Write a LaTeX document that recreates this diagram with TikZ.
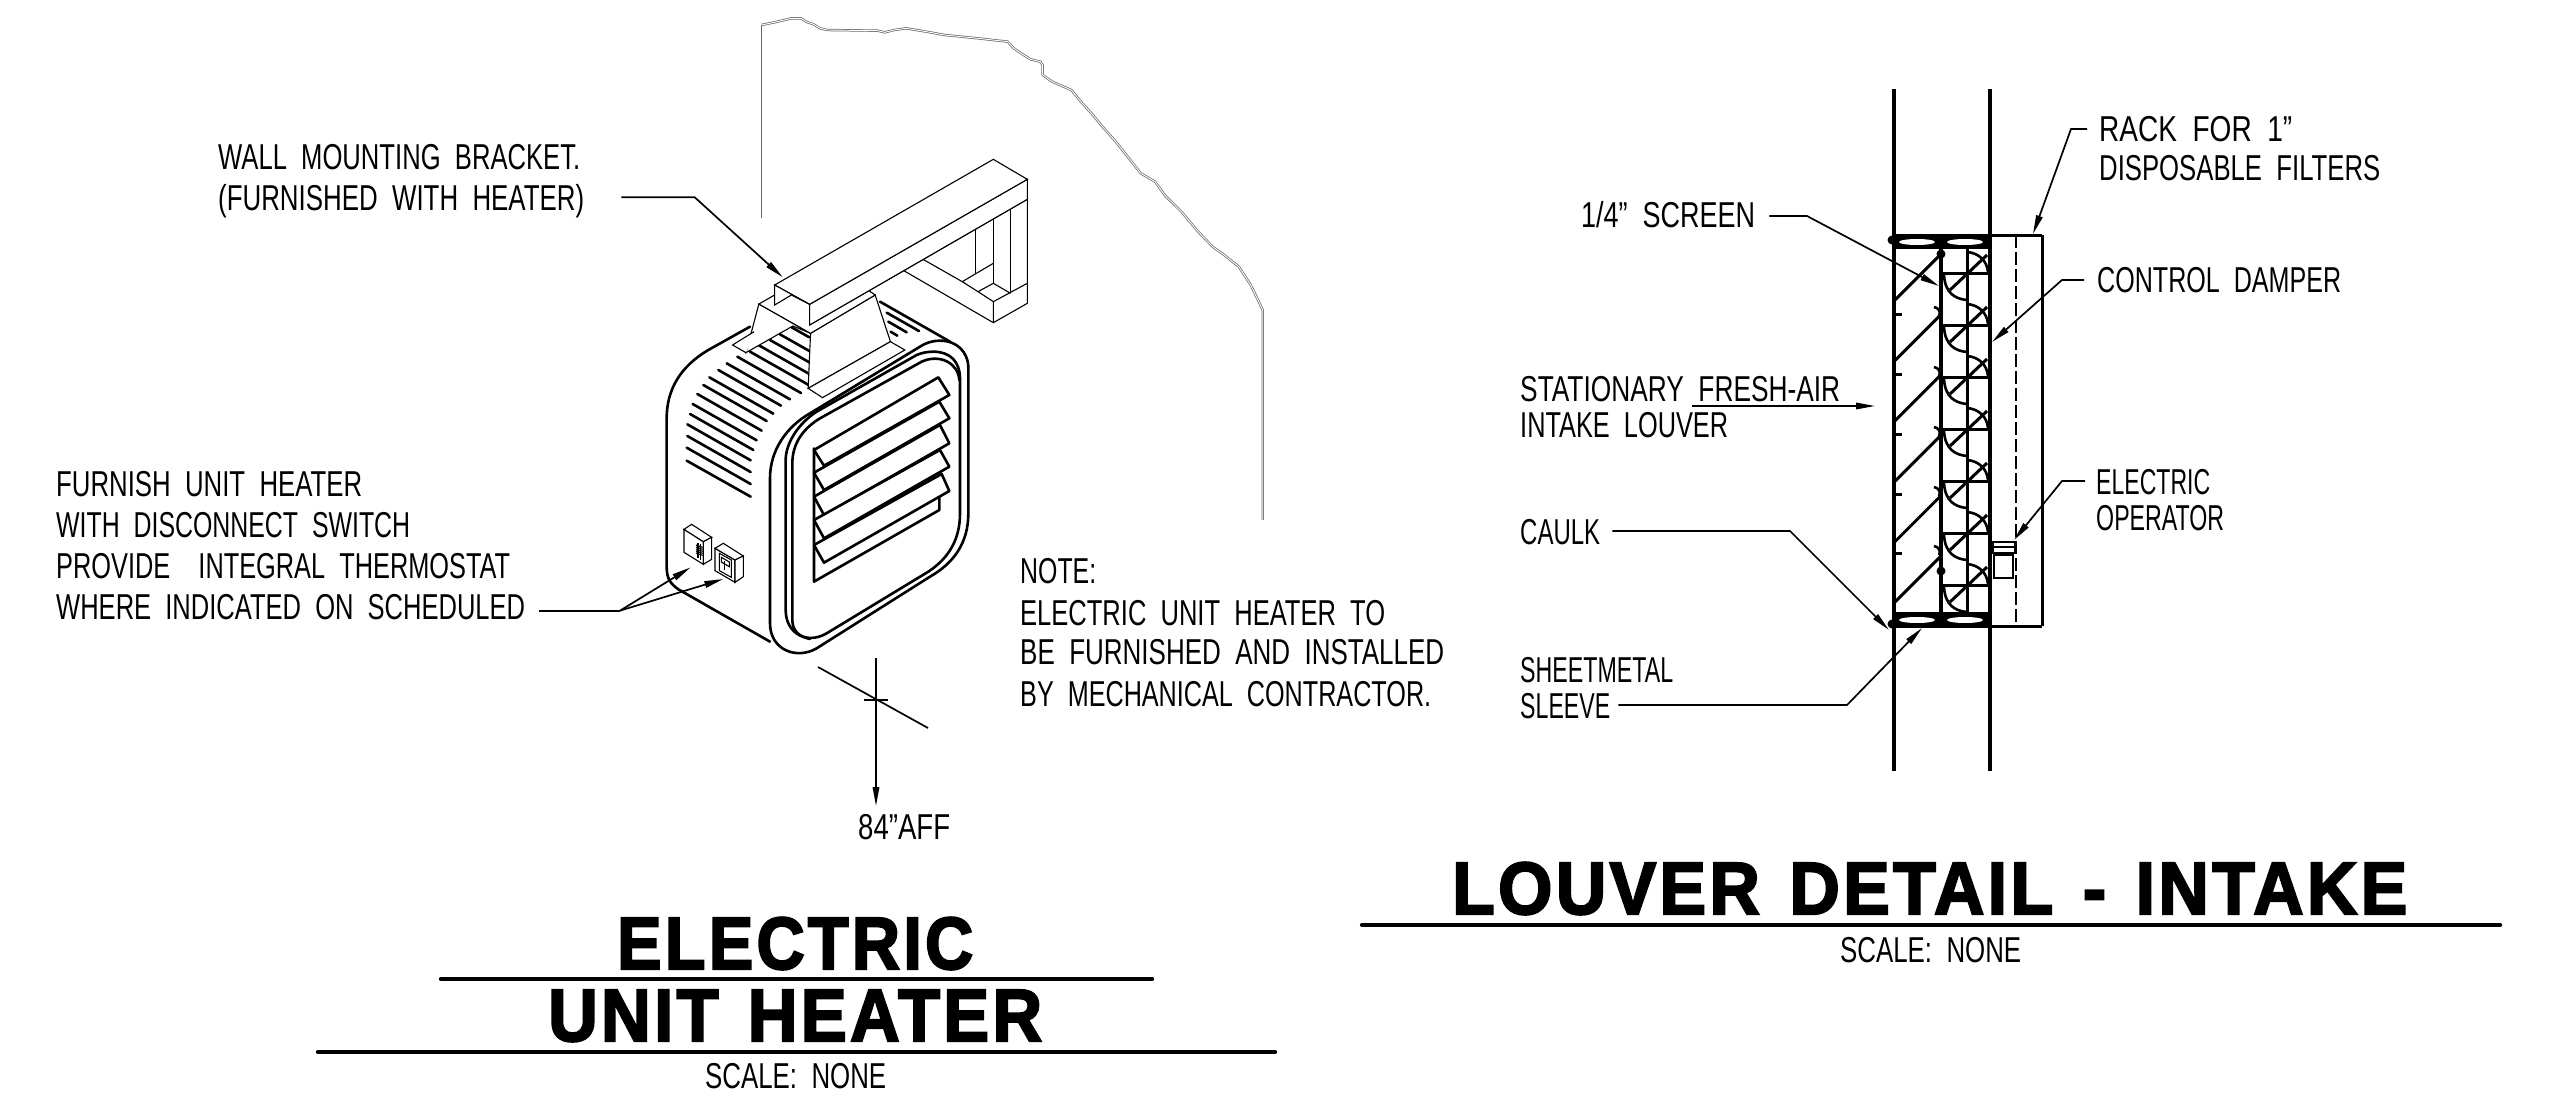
\documentclass[tikz,border=0pt]{standalone}
\usepackage{fontspec}
\usepackage{graphicx}
\usetikzlibrary{arrows.meta,calc}
\newfontfamily\cad[WordSpace=2]{Liberation Sans}
\newfontfamily\ttlf[LetterSpace=5,WordSpace=1.3,BoldFeatures={FakeBold=3}]{Liberation Sans}
\newlength\twd
\newcommand\fitw[2]{\settowidth\twd{#2}\pgfmathsetmacro\xs{#1/\the\twd*1pt/1pt}\scalebox{\xs}[1]{#2}}
\tikzset{
 lab/.style={anchor=base west,inner sep=0pt,font=\cad\fontsize{36}{36}\selectfont},
 ttl/.style={anchor=base west,inner sep=0pt,font=\ttlf\bfseries\fontsize{74}{74}\selectfont},
 lead/.style={line width=1.7pt,-{Stealth[length=19pt,width=6.5pt,inset=0pt]}},
 thk/.style={line width=2.6pt,line join=round,line cap=round},
 thn/.style={line width=1.1pt,line join=miter},
 wl/.style={line width=3.4pt},
 rule/.style={line width=4.4pt,line cap=round},
 zb/.style={shift={(620,300)},x=.33333pt,y=-.33333pt},
 za/.style={shift={(600,0)},x=.4785pt,y=-.33333pt},
 blade/.style={thk,fill=white},
}
\begin{document}
\begin{tikzpicture}[x=1pt,y=-1pt]
\useasboundingbox (0,0) rectangle (2549,1100);
\fill[white] (0,0) rectangle (2549,1100);

% ---------- wall outline
\begin{scope}[za]
\draw[line width=1.2pt,black!60] (337,655) -- (337,75);
\draw[line width=.75pt,draw=black!58,double=white,double distance=.9pt,line join=round]
 (337,75) -- (365,67) -- (400,55) -- (420,55) -- (432,66) -- (445,72) -- (460,85) -- (475,90) -- (580,92) -- (595,97) -- (615,90) -- (640,85) -- (690,97) -- (720,105) -- (790,115) -- (852,125) -- (865,145) -- (880,160) -- (900,178) -- (920,185) -- (925,195) -- (925,225) -- (945,245) -- (985,270) -- (1005,305) -- (1030,345) -- (1050,380) -- (1075,420) -- (1100,465) -- (1130,520) -- (1160,545) -- (1180,585) -- (1215,635) -- (1250,695) -- (1280,740) -- (1300,760) -- (1335,800) -- (1360,855) -- (1385,930) -- (1385,1560);
\end{scope}

% ---------- heater
\begin{scope}[zb]
\draw[thk] (390,80) -- (265,150) .. controls (180,200) and (140,270) .. (140,355) -- (140,800) .. controls (140,835) and (150,850) .. (175,868) -- (450,1025);
\draw[thk] (780,5) -- (990,125);
\draw[thk,fill=white] (960,122) .. controls (1010,122) and (1045,155) .. (1045,205) -- (1045,640) .. controls (1045,730) and (1000,790) .. (930,830) -- (590,1045) .. controls (530,1080) and (450,1050) .. (450,970) -- (450,535) .. controls (450,450) and (500,380) .. (570,340) -- (900,140) .. controls (920,127) and (940,122) .. (960,122) -- cycle;
\draw[thk] (940,155) .. controls (990,155) and (1020,185) .. (1020,235) -- (1020,640) .. controls (1020,720) and (985,775) .. (925,815) -- (620,1000) .. controls (560,1035) and (497,1000) .. (497,930) -- (497,480) .. controls (497,430) and (535,370) .. (590,335) -- (890,165) .. controls (905,158) and (925,155) .. (940,155) -- cycle;
\draw[thk] (1018,240) .. controls (1015,190) and (960,160) .. (905,185) -- (600,355) .. controls (550,385) and (517,430) .. (517,490) -- (517,960) .. controls (517,990) and (535,1010) .. (570,1017);
% louver frame and blades
\draw[thk] (582,445) -- (582,845) -- (958,630) -- (958,590);
\foreach \a/\b/\c/\d/\e/\f/\g/\h in {582/450/955/232/988/285/612/497,582/518/958/305/988/355/612/570,582/590/960/375/988/430/612/645,582/660/960/450/988/500/612/715,582/735/965/522/988/573/612/788}
 \draw[blade] (\a,\b) -- (\c,\d) -- (\e,\f) -- (\g,\h) -- cycle;
% side vents
\foreach \a/\b/\c/\d in {200/482/392/590,200/443/392/552,202/408/392/516,202/373/392/481,210/342/400/450,218/312/410/421,232/282/425/392,250/255/440/363,268/232/460/341,295/210/483/317,320/190/510/298,352/170/543/279,390/155/568/256,415/135/568/222,450/120/568/187,480/103/568/153,515/82/568/112,800/38/897/93,805/65/860/97,812/95/832/107}
 \draw[thk] (\a,\b) -- (\c,\d);
% thermostat
\draw[thn,fill=white] (192,688) -- (192,757) -- (250,793) -- (250,725) -- cycle;
\draw[thn,fill=white] (192,688) -- (215,673) -- (275,712) -- (250,725) -- cycle;
\draw[thn,fill=white] (250,725) -- (275,712) -- (275,778) -- (250,793) -- cycle;
\draw[thn] (234,728) -- (234,775) (242,733) -- (242,780);
\foreach \y in {735,741,747,753,759} \draw[thn] (228,\y) -- (248,\y+7);
% disconnect switch
\draw[thn,fill=white] (285,745) -- (285,812) -- (345,847) -- (345,780) -- cycle;
\draw[thn,fill=white] (285,745) -- (310,730) -- (370,768) -- (345,780) -- cycle;
\draw[thn,fill=white] (345,780) -- (370,768) -- (370,830) -- (345,847) -- cycle;
\draw[thn] (298,760) -- (334,780) -- (334,832) -- (298,812) -- cycle;
\draw[thn] (304,772) -- (328,786) -- (328,800) -- (304,786) -- cycle;
\draw[thn] (314,782) -- (314,810);
% leader anchors on the heater
\coordinate (fork) at (0,932);
\coordinate (tipA) at (212,802);
\coordinate (tipB) at (310,837);
\end{scope}

% ---------- bracket
\begin{scope}[za]
\draw[thn,fill=white] (332,912) -- (305,1058) -- (403,978) -- (440,1000) -- cycle;
\draw[thn,fill=white] (322,995) -- (277,1035) -- (305,1058);
\draw[thn,fill=white] (440,1000) -- (435,1165) -- (607,1025) -- (575,885) -- cycle;
\draw[thn,fill=white] (435,1165) -- (465,1193) -- (637,1050) -- (607,1025) -- cycle;
\draw[thn,fill=white] (332,912) -- (440,1000) -- (575,885) -- (560,870) -- (365,885) -- cycle;
% rear frame
\draw[thn] (893,538) -- (893,910) -- (822,968) -- (635,812);
\draw[thn] (893,850) -- (822,905) -- (822,968);
\draw[thn] (822,905) -- (790,875) -- (822,850) -- (858,880);
\draw[thn] (858,628) -- (858,880);
\draw[thn] (822,658) -- (822,850);
\draw[thn] (785,688) -- (785,820);
\draw[thn] (822,790) -- (757,845) -- (790,875);
\draw[thn] (675,778) -- (757,845);
\draw[thn] (893,598) -- (438,975);
% arm
\draw[thn,fill=white] (438,913) -- (438,975) -- (893,598) -- (893,538) -- cycle;
\draw[thn,fill=white] (365,855) -- (822,478) -- (893,538) -- (438,913) -- cycle;
\draw[thn,fill=white] (365,855) -- (365,915) -- (400,885) -- (438,913) -- cycle;
\coordinate (wbBend) at (198,592);
\coordinate (wbTip) at (382,832);
\end{scope}

% ---------- louver section
\draw[wl] (1894,89) -- (1894,771);
\draw[wl] (1990,89) -- (1990,771);
\draw[wl] (1941,248) -- (1941,613);
\draw[line width=3pt] (1967,248) -- (1967,612);
\draw[line width=3pt] (2042,235) -- (2042,626);
\draw[line width=2pt,dash pattern=on 13pt off 4pt] (2016,235) -- (2016,626);
\fill (1893,233.5) rectangle (2042,237);
\fill (1893,233.5) rectangle (1989,249);
\fill (1893,612) rectangle (1989,627.5);
\fill (1989,624.5) rectangle (2042,627.5);
\foreach \cx in {1917,1965} {
 \fill[white] (\cx,242) ellipse [x radius=18,y radius=3];
 \fill[white] (\cx,620) ellipse [x radius=18,y radius=3];
}
\foreach \px/\py in {1892/240,1941/240,1941/254,1941/571,1892/624,1941/621}
 \fill (\px,\py) circle [radius=4.5];
\foreach \k in {0,...,5} {
 \draw[line width=3pt] (1895,300+60*\k+2*\k/5) -- (1940,255+60*\k+2*\k/5);
}
\foreach \y in {314,374,434,494,553} {
 \draw[line width=3pt] (1895,\y) -- (1902,\y);
 \draw[line width=2.6pt] (1934,\y-7) .. controls (1939,\y-6) and (1941,\y-2) .. (1939,\y+2);
}
\foreach \k in {0,...,6} {
 \pgfmathsetmacro\dy{52*\k}
 \draw[line width=3pt] (1941,273+\dy) -- (1989,273+\dy);
 \draw[line width=3pt] (1950,290+\dy) -- (1987,255+\dy);
 \draw[line width=2.6pt] (1944,275+\dy) .. controls (1945,293+\dy) and (1955,299+\dy) .. (1967,300+\dy);
 \draw[line width=2.6pt] (1967,252+\dy) .. controls (1979,253+\dy) and (1987,261+\dy) .. (1988,272+\dy);
}
\draw[line width=2.6pt,fill=white] (1994,555) rectangle (2013,578);
\draw[line width=2.6pt,fill=white] (1993,542) rectangle (2015,553);
\draw[line width=1.6pt] (1993,547) -- (2015,547);

% ---------- text
\node[lab] (wb1) at (218,169) {\fitw{362}{WALL MOUNTING BRACKET.}};
\node[lab] (wb2) at (218,210) {\fitw{366}{(FURNISHED WITH HEATER)}};
\node[lab] (fu1) at (56,496) {\fitw{306}{FURNISH UNIT HEATER}};
\node[lab] (fu2) at (56,537) {\fitw{354}{WITH DISCONNECT SWITCH}};
\node[lab] (fu3) at (56,578) {\fitw{454}{PROVIDE\ \ INTEGRAL THERMOSTAT}};
\node[lab] (fu4) at (56,619) {\fitw{469}{WHERE INDICATED ON SCHEDULED}};
\node[lab] (no1) at (1020,583) {\fitw{76}{NOTE:}};
\node[lab] (no2) at (1020,625) {\fitw{365}{ELECTRIC UNIT HEATER TO}};
\node[lab] (no3) at (1020,664) {\fitw{424}{BE FURNISHED AND INSTALLED}};
\node[lab] (no4) at (1020,706) {\fitw{411}{BY MECHANICAL CONTRACTOR.}};
\node[lab] (aff) at (858,839) {\fitw{92}{84”AFF}};
\node[lab] (ra1) at (2099,141) {\fitw{193}{RACK FOR 1”}};
\node[lab] (ra2) at (2099,180) {\fitw{281}{DISPOSABLE FILTERS}};
\node[lab] (sc1) at (1581,227) {\fitw{174}{1/4” SCREEN}};
\node[lab] (cd1) at (2097,292) {\fitw{244}{CONTROL DAMPER}};
\node[lab] (st1) at (1520,401) {\fitw{320}{STATIONARY FRESH-AIR}};
\node[lab] (st2) at (1520,437) {\fitw{208}{INTAKE LOUVER}};
\node[lab] (ca1) at (1520,544) {\fitw{80}{CAULK}};
\node[lab] (sh1) at (1520,682) {\fitw{153}{SHEETMETAL}};
\node[lab] (sh2) at (1520,718) {\fitw{90}{SLEEVE}};
\node[lab] (el1) at (2096,494) {\fitw{114}{ELECTRIC}};
\node[lab] (el2) at (2096,530) {\fitw{128}{OPERATOR}};
\node[ttl] (t1) at (617,969) {\fitw{356}{ELECTRIC}};
\node[ttl] (t2) at (548,1041) {\fitw{494}{UNIT HEATER}};
\node[lab] (s1) at (705,1088) {\fitw{181}{SCALE: NONE}};
\node[ttl] (t3) at (1452,914) {\fitw{955}{LOUVER DETAIL - INTAKE}};
\node[lab] (s2) at (1840,962) {\fitw{181}{SCALE: NONE}};

% ---------- title rules
\coordinate (r1a) at (441,979); \coordinate (r1b) at (1152,979);
\coordinate (r2a) at (318,1052); \coordinate (r2b) at (1275,1052);
\coordinate (r3a) at (1362,925); \coordinate (r3b) at (2500,925);
\draw[rule] (r1a) -- (r1b);
\draw[rule] (r2a) -- (r2b);
\draw[rule] (r3a) -- (r3b);

% ---------- leaders
\draw[lead,shorten <=41pt] (wb1.east |- wbBend) -- (wbBend) -- (wbTip);
\draw[line width=1.7pt,shorten <=14pt] (fu4.east |- fork) -- (fork);
\draw[lead] (fork) -- (tipA);
\draw[lead] (fork) -- (tipB);
% height mark
\coordinate (hA) at (818,667); \coordinate (hB) at (928,728);
\coordinate (hC) at (876,658); \coordinate (hD) at (876,806);
\coordinate (hE) at (864,700); \coordinate (hF) at (888,700);
\draw[line width=1.7pt] (hA) -- (hB);
\draw[line width=1.7pt] (hE) -- (hF);
\draw[lead] (hC) -- (hD);
% louver leaders
\coordinate (raB) at (2071,129); \coordinate (raT) at (2033,234);
\draw[lead,shorten <=12pt] (ra1.west |- raB) -- (raB) -- (raT);
\coordinate (scB) at (1807,216); \coordinate (scT) at (1939,286);
\draw[lead,shorten <=14pt] (sc1.east |- scB) -- (scB) -- (scT);
\coordinate (cdB) at (2062,280); \coordinate (cdT) at (1992,342);
\draw[lead,shorten <=13pt] (cd1.west |- cdB) -- (cdB) -- (cdT);
\coordinate (stA) at (1692,406); \coordinate (stT) at (1875,406);
\draw[lead] (stA) -- (stT);
\coordinate (caB) at (1790,531); \coordinate (caT) at (1889,630);
\draw[lead,shorten <=12pt] (ca1.east |- caB) -- (caB) -- (caT);
\coordinate (shB) at (1847,705); \coordinate (shT) at (1922,628);
\draw[lead,shorten <=8pt] (sh2.east |- shB) -- (shB) -- (shT);
\coordinate (elB) at (2062,481); \coordinate (elT) at (2014,540);
\draw[lead,shorten <=11pt] (el1.west |- elB) -- (elB) -- (elT);
\end{tikzpicture}
\end{document}
